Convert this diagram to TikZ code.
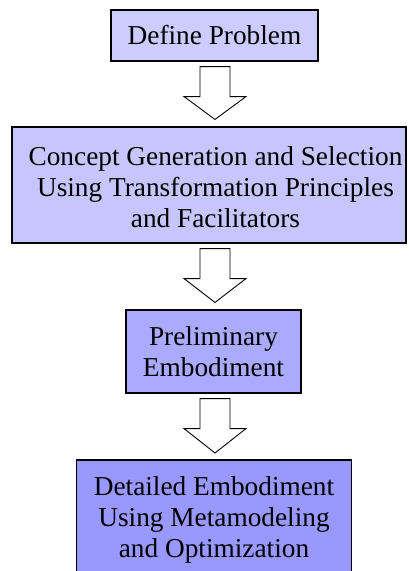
\documentclass[tikz,border=0pt]{standalone}
\usepackage{fontspec}
\setmainfont{Liberation Serif}
\usetikzlibrary{calc}
\definecolor{cone}{HTML}{CCCCFF}
\definecolor{ctwo}{HTML}{C6C6FD}
\definecolor{cthree}{HTML}{AAAAFF}
\definecolor{cfour}{HTML}{9898FF}
\newcommand\myblockarrow[2]{%
  \draw[barrow] ($(ax |- #1.south)+(-15,5)$) -- ($(ax |- #1.south)+(15,5)$)
    -- ($(ax |- #1.south)+(15,35)$) -- ($(ax |- #1.south)+(31,35)$)
    -- ($(ax |- #2.north)+(0,-7)$)
    -- ($(ax |- #1.south)+(-31,35)$) -- ($(ax |- #1.south)+(-15,35)$) -- cycle;}
\begin{document}
\begin{tikzpicture}[x=1pt,y=-1pt,
  box/.style={draw=black, line width=1.1pt, align=center,
    font=\fontsize{27.3}{30.8}\selectfont, inner sep=0pt},
  txt/.style={align=center, font=\fontsize{27.3}{31}\selectfont, inner sep=0pt},
  barrow/.style={draw=black, fill=white, line width=0.9pt, line join=miter}]
\useasboundingbox (0,0) rectangle (408,571);
\path[clip] (0,0) rectangle (408,571);
\fill[white] (0,0) rectangle (408,571);
\coordinate (ax) at (215,0);
\node[box, fill=cone, minimum width=207, minimum height=51] (b1) at (214.5,35.5) {Define Problem};
\node[box, fill=ctwo, minimum width=394, minimum height=116] (b2) at (209,185) {};
\node[txt] (b2t) at (215.5,187) {Concept Generation and Selection\\Using Transformation Principles\\and Facilitators};
\node[box, fill=cthree, minimum width=175, minimum height=83] (b3) at (213.5,351.5) {Preliminary\\Embodiment};
\node[box, draw=none, fill=cfour, minimum width=274, minimum height=160, anchor=north] (b4) at (214,460) {};
\draw[line width=1.1pt] (b4.south west) -- (b4.north west) -- (b4.north east) -- (b4.south east);
\node[txt] (b4t) at (214,519.5) {Detailed Embodiment\\Using Metamodeling\\and Optimization};
\myblockarrow{b1}{b2}
\myblockarrow{b2}{b3}
\myblockarrow{b3}{b4}
\end{tikzpicture}
\end{document}
